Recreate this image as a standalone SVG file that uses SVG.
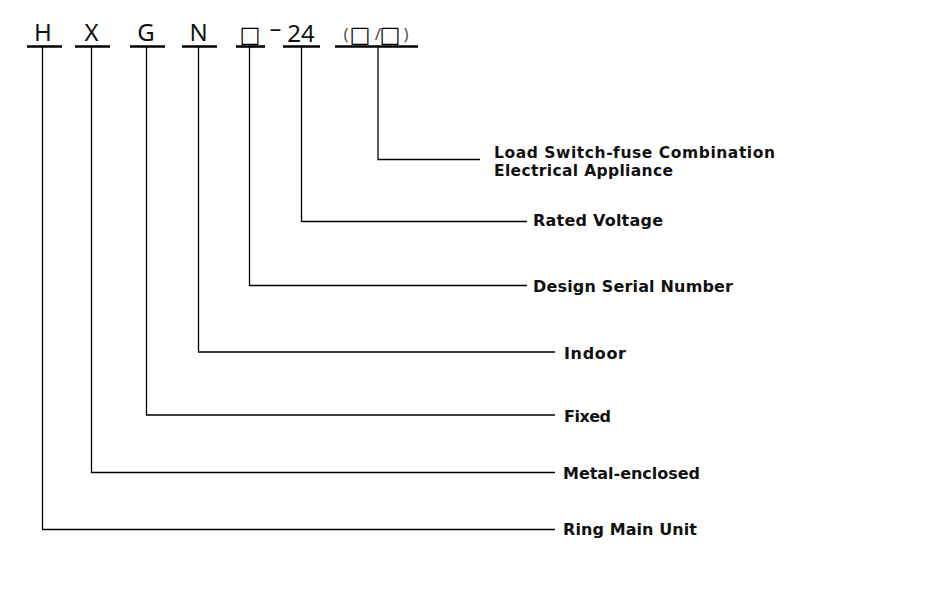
<svg xmlns="http://www.w3.org/2000/svg" width="952" height="594" viewBox="0 0 952 594">
<style>
.code{font-family:"Noto Sans","DejaVu Sans",sans-serif;font-size:24px;fill:#111;text-anchor:middle}
.box{font-family:"DejaVu Sans","Noto Sans CJK SC",sans-serif;font-size:22px;fill:#000;text-anchor:middle}
.paren{font-family:"Noto Sans","DejaVu Sans",sans-serif;font-size:17px;fill:#555;text-anchor:middle}
.lbl{font-family:"DejaVu Sans","Verdana",sans-serif;font-weight:bold;font-size:16px;fill:#111}
.ul{stroke:#000;stroke-width:2.6;fill:none}
.ln{stroke:#000;stroke-width:1.3;fill:none}
</style>
<rect width="952" height="594" fill="#fff"/>
<g id="code-H"><text class="code" x="43" y="41">H</text><line class="ul" x1="27" y1="46.5" x2="62" y2="46.5"/></g>
<g id="code-X"><text class="code" x="91.5" y="41">X</text><line class="ul" x1="75" y1="46.5" x2="110" y2="46.5"/></g>
<g id="code-G"><text class="code" x="146" y="41">G</text><line class="ul" x1="130" y1="46.5" x2="165" y2="46.5"/></g>
<g id="code-N"><text class="code" x="198.5" y="41">N</text><line class="ul" x1="182" y1="46.5" x2="217" y2="46.5"/></g>
<g id="code-serial"><text class="box" x="250" y="42">□</text><line class="ul" x1="236" y1="46.5" x2="265" y2="46.5"/></g>
<g id="code-dash"><text class="code" x="269" y="36" style="font-size:22px;text-anchor:start" textLength="13" lengthAdjust="spacingAndGlyphs">-</text></g>
<g id="code-24"><text class="code" x="301" y="42">24</text><line class="ul" x1="283" y1="46.5" x2="320" y2="46.5"/></g>
<g id="code-combo"><text y="40"><tspan class="paren" x="346">(</tspan><tspan class="box" x="360" y="42">□</tspan><tspan class="paren" x="378" y="40">/</tspan><tspan class="box" x="390" y="42">□</tspan><tspan class="paren" x="406" y="40">)</tspan></text><line class="ul" x1="335" y1="46.5" x2="418" y2="46.5"/></g>
<g id="label-combo"><text class="lbl" style="font-size:15.5px"><tspan x="494" y="157.5" textLength="281">Load Switch-fuse Combination</tspan><tspan x="494" y="175.5" textLength="179">Electrical Appliance</tspan></text></g>
<g id="label-voltage"><text class="lbl" x="533" y="226" textLength="130">Rated Voltage</text></g>
<g id="label-serial"><text class="lbl" x="533" y="292" textLength="200">Design Serial Number</text></g>
<g id="label-indoor"><text class="lbl" x="564" y="359" textLength="62">Indoor</text></g>
<g id="label-fixed"><text class="lbl" x="564" y="422" textLength="47">Fixed</text></g>
<g id="label-metal"><text class="lbl" x="563" y="479" textLength="137">Metal-enclosed</text></g>
<g id="label-ring"><text class="lbl" x="563" y="535" textLength="134">Ring Main Unit</text></g>
<g id="connectors">
<polyline class="ln" points="378,46 378,159.5 480,159.5"/>
<polyline class="ln" points="301.5,46 301.5,221.5 527,221.5"/>
<polyline class="ln" points="249.5,46 249.5,285.5 527,285.5"/>
<polyline class="ln" points="198.5,46 198.5,352 555,352"/>
<polyline class="ln" points="146.5,46 146.5,415 555,415"/>
<polyline class="ln" points="91.5,46 91.5,472.5 555,472.5"/>
<polyline class="ln" points="42.5,46 42.5,529.5 555,529.5"/>
</g>
</svg>
